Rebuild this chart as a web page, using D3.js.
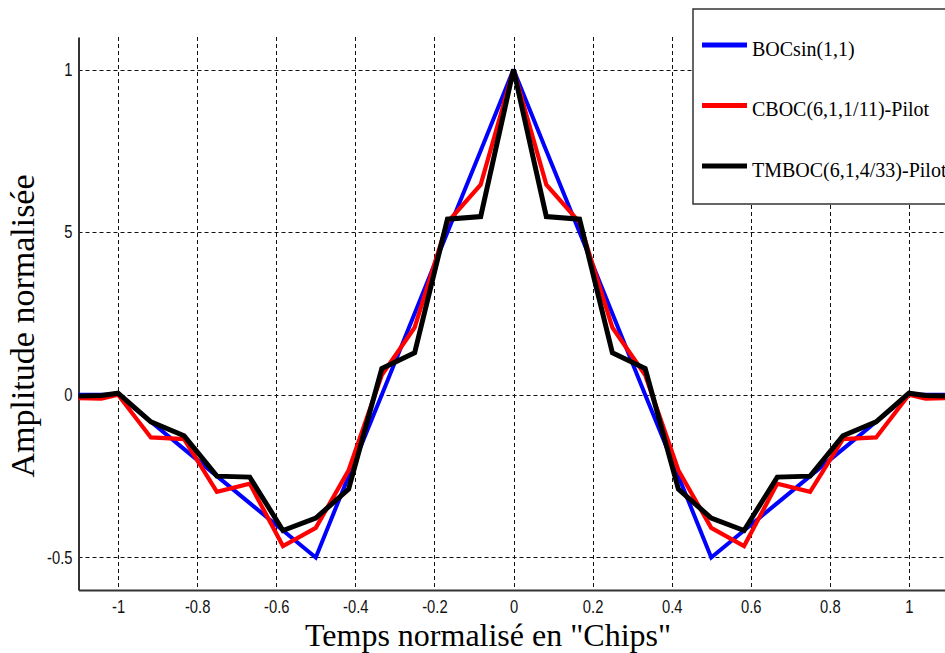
<!DOCTYPE html>
<html>
<head>
<meta charset="utf-8">
<script src="https://cdn.jsdelivr.net/npm/d3@7"></script>
<style>
  html, body { margin: 0; padding: 0; background: #fff; }
  svg { display: block; }
</style>
</head>
<body>
<svg id="chart" width="945" height="653"></svg>
<script>
// ---- data ----
const lags = [-1.1, -1.042, -1, -0.917, -0.833, -0.75, -0.667, -0.583, -0.5, -0.417, -0.333, -0.25, -0.167, -0.083, 0,
              0.083, 0.167, 0.25, 0.333, 0.417, 0.5, 0.583, 0.667, 0.75, 0.833, 0.917, 1, 1.042, 1.1];
const bocValues = [0, 0, 0, -0.083, -0.167, -0.25, -0.333, -0.417, -0.5, -0.25, 0, 0.25, 0.5, 0.75, 1,
                   0.75, 0.5, 0.25, 0, -0.25, -0.5, -0.417, -0.333, -0.25, -0.167, -0.083, 0, 0, 0];
const cbocValues = [-0.01, -0.012, 0, -0.131, -0.136, -0.298, -0.273, -0.465, -0.409, -0.232, 0.061, 0.207, 0.530, 0.646, 1,
                    0.646, 0.530, 0.207, 0.061, -0.232, -0.409, -0.465, -0.273, -0.298, -0.136, -0.131, 0, -0.012, -0.01];
const tmbocValues = [-0.004, -0.002, 0.005, -0.083, -0.126, -0.25, -0.253, -0.417, -0.379, -0.290, 0.081, 0.129, 0.540, 0.548, 1,
                     0.548, 0.540, 0.129, 0.081, -0.290, -0.379, -0.417, -0.253, -0.25, -0.126, -0.083, 0.005, -0.002, -0.004];
const seriesNames = ["BOCsin(1,1)", "CBOC(6,1,1/11)-Pilot", "TMBOC(6,1,4/33)-Pilot"];
const seriesColors = ["#0000ff", "#ff0000", "#000000"];
const xTicks = [-1, -0.8, -0.6, -0.4, -0.2, 0, 0.2, 0.4, 0.6, 0.8, 1];
const xTickLabels = ["-1", "-0.8", "-0.6", "-0.4", "-0.2", "0", "0.2", "0.4", "0.6", "0.8", "1"];
const yTicks = [-0.5, 0, 0.5, 1];
const yTickLabels = ["-0.5", "0", "5", "1"];
const xTitle = "Temps normalisé en \"Chips\"";
const yTitle = "Amplitude normalisée";

// ---- layout ----
const svg = d3.select("#chart");
const L = 78.5, R = 948.5, T = 37, B = 590;
const x = d3.scaleLinear().domain([-1.1, 1.1]).range([L, R]);
const y = d3.scaleLinear().domain([-0.6, 1.1]).range([B, T]);

svg.append("rect").attr("width", 945).attr("height", 653).attr("fill", "#fff");

// grid
const grid = svg.append("g").attr("stroke", "#111").attr("stroke-width", 1).attr("stroke-dasharray", "4,3").attr("fill", "none");
grid.selectAll("line.v").data(xTicks).join("line").attr("class", "v")
  .attr("x1", d => Math.round(x(d)) + 0.5).attr("x2", d => Math.round(x(d)) + 0.5)
  .attr("y1", T).attr("y2", B);
grid.selectAll("line.h").data(yTicks).join("line").attr("class", "h")
  .attr("y1", d => Math.round(y(d)) + 0.5).attr("y2", d => Math.round(y(d)) + 0.5)
  .attr("x1", L).attr("x2", R);

// axes
const xAxis = svg.append("g").attr("transform", `translate(0,${B})`)
  .call(d3.axisBottom(x).tickValues(xTicks).tickSize(0).tickSizeOuter(0).tickPadding(10)
        .tickFormat((d, i) => xTickLabels[i]));
const yAxis = svg.append("g").attr("transform", `translate(${L},0)`)
  .call(d3.axisLeft(y).tickValues(yTicks).tickSize(0).tickSizeOuter(0).tickPadding(7)
        .tickFormat((d, i) => yTickLabels[i]));
[xAxis, yAxis].forEach(g => {
  g.select(".domain").attr("stroke", "#333").attr("stroke-width", 2);
  g.selectAll("text").attr("font-family", "'Liberation Sans', Arial, sans-serif")
    .attr("font-size", 18).attr("fill", "#111");
});
xAxis.selectAll("text").attr("transform", "scale(0.82,1)");
yAxis.selectAll("text").attr("x", -7.3).attr("transform", "scale(0.82,1)");

// series
const seriesValues = [bocValues, cbocValues, tmbocValues];
const widths = [4, 4.2, 5];
const line = d3.line().x(d => x(d[0])).y(d => y(d[1]));
const plot = svg.append("g");
seriesValues.forEach((vals, s) => {
  plot.append("path")
    .datum(lags.map((lx, i) => [lx, vals[i]]))
    .attr("d", line)
    .attr("fill", "none")
    .attr("stroke", seriesColors[s])
    .attr("stroke-width", widths[s])
    .attr("stroke-linejoin", "miter")
    .attr("stroke-miterlimit", 2);
});

// axis titles
svg.append("text").attr("x", 488).attr("y", 646).attr("text-anchor", "middle")
  .attr("font-family", "'Liberation Serif', 'Times New Roman', serif").attr("font-size", 32).attr("fill", "#000")
  .text(xTitle);
svg.append("text").attr("transform", "translate(33.5,326) rotate(-90)").attr("text-anchor", "middle")
  .attr("font-family", "'Liberation Serif', 'Times New Roman', serif").attr("font-size", 34).attr("fill", "#000")
  .text(yTitle);

// legend
const leg = svg.append("g");
leg.append("rect").attr("x", 693).attr("y", 9).attr("width", 270).attr("height", 195)
  .attr("fill", "#fff").attr("stroke", "#333").attr("stroke-width", 1.5);
const legY = [45, 105.5, 166];
seriesNames.forEach((name, i) => {
  leg.append("line").attr("x1", 702).attr("x2", 747).attr("y1", legY[i]).attr("y2", legY[i])
    .attr("stroke", seriesColors[i]).attr("stroke-width", 5);
  leg.append("text").attr("x", 752).attr("y", legY[i] + 10.5)
    .attr("font-family", "'Liberation Serif', 'Times New Roman', serif").attr("font-size", 20).attr("fill", "#000")
    .text(name);
});
</script>
</body>
</html>
